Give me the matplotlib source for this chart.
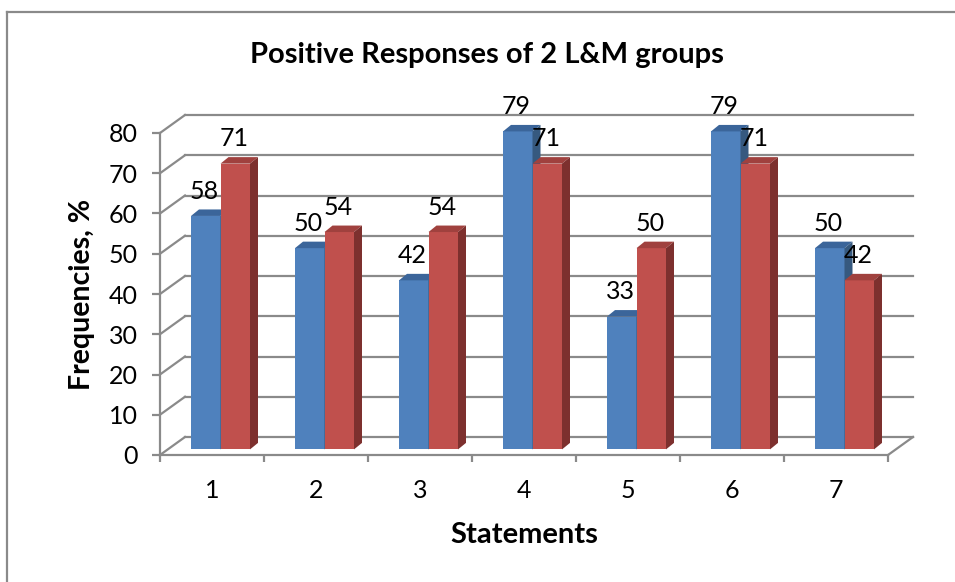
import matplotlib
matplotlib.use('Agg')
import matplotlib.pyplot as plt
from matplotlib.patches import Polygon
from matplotlib.lines import Line2D

# ---- data ----
categories = ['1', '2', '3', '4', '5', '6', '7']
group1 = [58, 50, 42, 79, 33, 79, 50]
group2 = [71, 54, 54, 71, 50, 71, 42]
yticks = [0, 10, 20, 30, 40, 50, 60, 70, 80]
title = 'Positive Responses of 2 L&M groups'
xlabel = 'Statements'
ylabel = 'Frequencies, %'

plt.rcParams['font.family'] = ['Lato', 'DejaVu Sans']

W, H = 955, 582
fig = plt.figure(figsize=(W / 100, H / 100), dpi=100)
fig.patch.set_facecolor('white')

# front plane of the axes, in pixels
px0, px1 = 160, 888
py0, py1 = 455, 133
ax = fig.add_axes([px0 / W, 1 - py0 / H, (px1 - px0) / W, (py0 - py1) / H])
ax.set_xlim(0.5, len(categories) + 0.5)
ax.set_ylim(0, 80)
ax.set_facecolor('none')

ux = (px1 - px0) / len(categories)   # px per category
uy = (py0 - py1) / 80.0              # px per unit

# 3D geometry (in data units)
DX, DY = 25 / ux, 18 / uy            # wall depth
SX, SY = 8.5 / ux, 5.6 / uy          # bar plane shift
BX, BY = 8 / ux, 6.5 / uy            # bar depth
BW = 29.5 / ux                       # bar width

grid_c = '#8a8a8a'
n = len(categories)
# back wall grid lines and left wall diagonals
for t in yticks:
    ax.add_line(Line2D([0.5 + DX, n + 0.5 + DX], [t + DY, t + DY], color=grid_c,
                       lw=1.6, clip_on=False, zorder=1))
    ax.add_line(Line2D([0.5, 0.5 + DX], [t, t + DY], color=grid_c,
                       lw=1.6, clip_on=False, zorder=1))
# right floor edge
ax.add_line(Line2D([n + 0.5, n + 0.5 + DX], [0, DY], color=grid_c,
                   lw=1.6, clip_on=False, zorder=1))

colors = {
    'b': ('#4F81BD', '#3B659A', '#36597F'),
    'r': ('#C0504D', '#A0413E', '#7D302E'),
}


def draw_bar(x, v, cols, z):
    front, top, side = cols
    y0 = SY
    y1 = v + SY
    ax.add_patch(Polygon([(x, y0), (x + BW, y0), (x + BW, y1), (x, y1)], closed=True,
                         facecolor=front, edgecolor='none', clip_on=False, zorder=z))
    ax.add_patch(Polygon([(x, y1), (x + BW, y1), (x + BW + BX, y1 + BY), (x + BX, y1 + BY)],
                         closed=True, facecolor=top, edgecolor='none', clip_on=False, zorder=z))
    ax.add_patch(Polygon([(x + BW, y0), (x + BW + BX, y0 + BY), (x + BW + BX, y1 + BY), (x + BW, y1)],
                         closed=True, facecolor=side, edgecolor='none', clip_on=False, zorder=z))


for i, (a, b) in enumerate(zip(group1, group2)):
    c = i + 1
    xb = c + SX - BW
    xr = c + SX
    draw_bar(xb, a, colors['b'], 3 + i * 0.01)
    draw_bar(xr, b, colors['r'], 3.005 + i * 0.01)
    ax.annotate(str(a), (xb + BW / 2, a + SY), xytext=(-1, 12.5), textcoords='offset points',
                ha='center', va='baseline', fontsize=18, color='black', zorder=6,
                annotation_clip=False)
    ax.annotate(str(b), (xr + BW / 2, b + SY), xytext=(-1, 12.5), textcoords='offset points',
                ha='center', va='baseline', fontsize=18, color='black', zorder=6,
                annotation_clip=False)

# axes styling
for s in ['top', 'right']:
    ax.spines[s].set_visible(False)
for s in ['left', 'bottom']:
    ax.spines[s].set_color(grid_c)
    ax.spines[s].set_linewidth(1.6)
    ax.spines[s].set_zorder(2)

ax.set_yticks(yticks)
ax.set_yticklabels([str(t) for t in yticks])
ax.tick_params(axis='y', direction='out', length=6, width=1.6, color=grid_c,
               labelsize=18, pad=10, labelcolor='black')
ax.set_xticks(range(1, n + 1))
ax.set_xticklabels(categories)
ax.set_xticks([i + 0.5 for i in range(0, n + 1)], minor=True)
ax.tick_params(axis='x', which='major', length=0, labelsize=18, pad=17, labelcolor='black')
ax.tick_params(axis='x', which='minor', direction='out', length=5, width=1.6, color=grid_c)

ax.set_ylabel(ylabel, fontsize=20.5, fontweight='bold', va='center')
ax.yaxis.set_label_coords((81.5 - px0) / (px1 - px0), (py0 - 294) / (py0 - py1))
ax.set_xlabel(xlabel, fontsize=21, fontweight='bold', va='center')
ax.xaxis.set_label_coords((524 - px0) / (px1 - px0), (py0 - 535) / (py0 - py1))

fig.text(487 / W, 1 - 55 / H, title, ha='center', va='center', fontsize=21,
         fontweight='bold', color='black')

# outer chart frame (extends past the image on right/bottom)
fig.add_artist(Line2D([7 / W, 7 / W], [1 - 12 / H, 0], transform=fig.transFigure,
                      color='#8a8a8a', lw=1.6))
fig.add_artist(Line2D([7 / W, 1], [1 - 12 / H, 1 - 12 / H], transform=fig.transFigure,
                      color='#8a8a8a', lw=1.6))

fig.savefig('out.png', dpi=100, facecolor='white')
